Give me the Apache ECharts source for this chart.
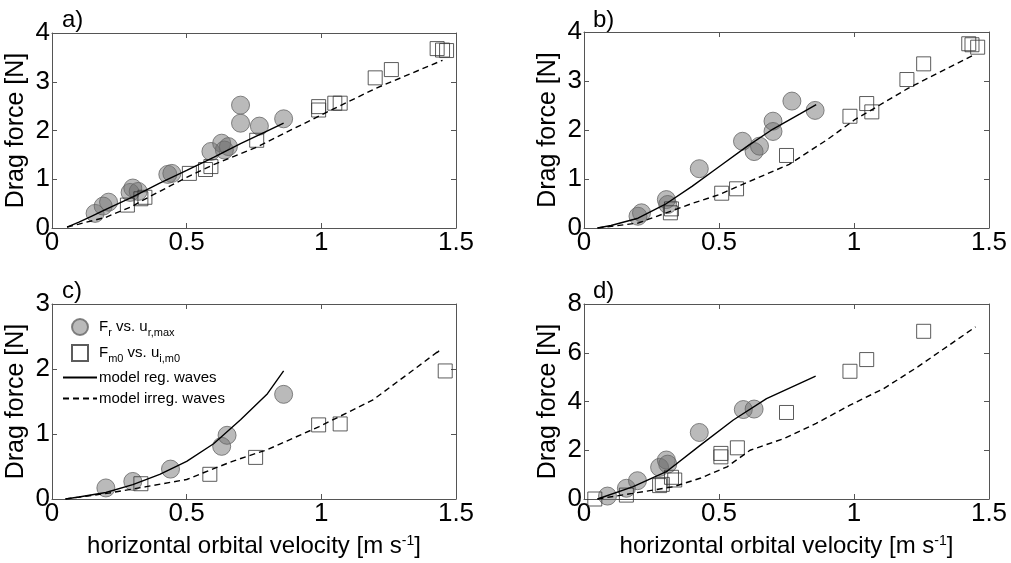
<!DOCTYPE html>
<html>
<head>
<meta charset="utf-8">
<script src="https://cdn.jsdelivr.net/npm/echarts@6/dist/echarts.min.js"></script>
<style>
  html, body { margin: 0; padding: 0; background: #fff; }
  #chart { width: 1011px; height: 563px; }
</style>
</head>
<body>
<div id="chart"></div>
<script>
// panel a)
const circlesA = [[0.16, 0.3], [0.19, 0.45], [0.21, 0.53], [0.29, 0.73], [0.3, 0.82], [0.32, 0.75],
  [0.43, 1.1], [0.445, 1.12], [0.59, 1.57], [0.63, 1.74], [0.64, 1.6], [0.655, 1.67],
  [0.7, 2.52], [0.7, 2.15], [0.77, 2.09], [0.86, 2.24]];
const squaresA = [[0.28, 0.47], [0.33, 0.6], [0.345, 0.63], [0.51, 1.12], [0.57, 1.2], [0.59, 1.26],
  [0.76, 1.8], [0.99, 2.49], [0.99, 2.42], [1.05, 2.56], [1.07, 2.56], [1.2, 3.08],
  [1.26, 3.25], [1.43, 3.68], [1.45, 3.65], [1.465, 3.64]];
const modelRegA = [[0.056, 0.02], [0.1, 0.12], [0.15, 0.25], [0.2, 0.38], [0.3, 0.64], [0.4, 0.92],
  [0.5, 1.18], [0.6, 1.45], [0.7, 1.73], [0.8, 1.99], [0.86, 2.15]];
const modelIrrA = [[0.056, 0.02], [0.1, 0.08], [0.2, 0.22], [0.3, 0.45], [0.33, 0.55], [0.5, 1.04],
  [0.6, 1.3], [0.76, 1.66], [1.0, 2.32], [1.2, 2.86], [1.45, 3.44]];

// panel b)
const circlesB = [[0.2, 0.24], [0.213, 0.31], [0.305, 0.58], [0.31, 0.48], [0.427, 1.21], [0.587, 1.77],
  [0.63, 1.56], [0.65, 1.67], [0.7, 2.18], [0.7, 1.97], [0.77, 2.59], [0.856, 2.4]];
const squaresB = [[0.32, 0.31], [0.324, 0.39], [0.51, 0.71], [0.565, 0.8], [0.75, 1.48], [0.985, 2.28],
  [1.047, 2.54], [1.066, 2.37], [1.196, 3.03], [1.258, 3.35], [1.425, 3.76], [1.437, 3.74], [1.458, 3.69]];
const modelRegB = [[0.05, 0.0], [0.1, 0.05], [0.2, 0.2], [0.3, 0.48], [0.4, 0.85], [0.5, 1.25],
  [0.6, 1.65], [0.7, 2.02], [0.8, 2.33], [0.86, 2.52]];
const modelIrrB = [[0.05, 0.0], [0.2, 0.1], [0.3, 0.3], [0.4, 0.5], [0.5, 0.68], [0.6, 0.92],
  [0.76, 1.3], [0.9, 1.8], [1.0, 2.2], [1.2, 2.85], [1.45, 3.55]];

// panel c)
const circlesC = [[0.2, 0.17], [0.3, 0.27], [0.44, 0.46], [0.63, 0.81], [0.65, 0.98], [0.86, 1.61]];
const squaresC = [[0.33, 0.235], [0.586, 0.38], [0.756, 0.64], [0.99, 1.14], [1.07, 1.155], [1.46, 1.97]];
const modelRegC = [[0.05, 0.0], [0.1, 0.03], [0.2, 0.1], [0.3, 0.22], [0.4, 0.38], [0.5, 0.58],
  [0.6, 0.85], [0.7, 1.22], [0.8, 1.62], [0.86, 1.97]];
const modelIrrC = [[0.05, 0.0], [0.21, 0.09], [0.35, 0.19], [0.5, 0.3], [0.56, 0.4], [0.67, 0.58],
  [0.8, 0.76], [0.99, 1.11], [1.19, 1.52], [1.34, 1.98], [1.44, 2.29], [1.43, 2.25]];

// panel d)
const circlesD = [[0.087, 0.12], [0.157, 0.44], [0.198, 0.75], [0.28, 1.3], [0.305, 1.6], [0.31, 1.43],
  [0.427, 2.73], [0.59, 3.67], [0.63, 3.69]];
const squaresD = [[0.04, 0.0], [0.157, 0.16], [0.28, 0.55], [0.29, 0.6], [0.324, 0.89], [0.336, 0.78],
  [0.507, 1.87], [0.507, 1.73], [0.568, 2.1], [0.75, 3.55], [0.985, 5.24], [1.047, 5.72], [1.258, 6.88]];
const modelRegD = [[0.05, 0.0], [0.18, 0.5], [0.305, 1.12], [0.43, 2.2], [0.553, 3.24], [0.676, 4.12],
  [0.858, 5.04]];
const modelIrrD = [[0.05, 0.0], [0.18, 0.23], [0.33, 0.5], [0.43, 0.85], [0.53, 1.32], [0.615, 2.0],
  [0.74, 2.48], [0.86, 3.1], [0.985, 3.85], [1.11, 4.53], [1.236, 5.42], [1.45, 7.06]];

const panelLetters = ['a)', 'b)', 'c)', 'd)'];
const yMax = [4, 4, 3, 8];
const yStep = [1, 1, 1, 2];
const xLabelText = 'horizontal orbital velocity [m s{sup|-1}]';
const yLabelText = 'Drag force [N]';
const legendNames = ['Fr vs. ur,max', 'Fm0 vs. ui,m0', 'model reg. waves', 'model irreg. waves'];

const panels = [
  [circlesA, squaresA, modelRegA, modelIrrA],
  [circlesB, squaresB, modelRegB, modelIrrB],
  [circlesC, squaresC, modelRegC, modelIrrC],
  [circlesD, squaresD, modelRegD, modelIrrD]
];

const FONT = 'Liberation Sans, Arial, sans-serif';
const boxColor = '#555';

const grids = [
  { left: 52, top: 33, width: 404, height: 195 },
  { left: 584, top: 32, width: 405, height: 196 },
  { left: 52, top: 304, width: 404, height: 195 },
  { left: 584, top: 304, width: 405, height: 195 }
];
const titlePos = [[57, 3], [588, 3], [57, 274], [588, 274]];

const xAxes = [], yAxes = [], series = [], titles = [];

grids.forEach(function (g, i) {
  const lineStyle = { color: boxColor, width: 1 };
  const tick = { show: true, inside: true, length: 5, lineStyle: lineStyle };
  // bottom x axis
  xAxes.push({
    gridIndex: i, type: 'value', min: 0, max: 1.5, interval: 0.5, position: 'bottom',
    splitLine: { show: false },
    axisLine: { show: true, onZero: false, lineStyle: lineStyle },
    axisTick: tick,
    axisLabel: { color: '#000', fontSize: 26, fontFamily: FONT, margin: 2 },
    name: i >= 2 ? xLabelText : '',
    nameLocation: 'middle', nameGap: 35,
    nameTextStyle: {
      color: '#000', fontSize: 24, fontFamily: FONT,
      rich: { sup: { fontSize: 14, fontFamily: FONT, color: '#000', verticalAlign: 'top', padding: [0, 0, 10, 0] } }
    }
  });
  // top x axis (box + ticks)
  xAxes.push({
    gridIndex: i, type: 'value', min: 0, max: 1.5, interval: 0.5, position: 'top',
    splitLine: { show: false },
    axisLine: { show: true, onZero: false, lineStyle: lineStyle },
    axisTick: tick, axisLabel: { show: false }
  });
  // left y axis
  yAxes.push({
    gridIndex: i, type: 'value', min: 0, max: yMax[i], interval: yStep[i], position: 'left',
    splitLine: { show: false },
    axisLine: { show: true, onZero: false, lineStyle: lineStyle },
    axisTick: tick,
    axisLabel: { color: '#000', fontSize: 26, fontFamily: FONT, margin: 2 },
    name: yLabelText, nameLocation: 'middle', nameRotate: 90, nameGap: 23,
    nameTextStyle: { color: '#000', fontSize: 25, fontFamily: FONT }
  });
  // right y axis (box + ticks)
  yAxes.push({
    gridIndex: i, type: 'value', min: 0, max: yMax[i], interval: yStep[i], position: 'right',
    splitLine: { show: false },
    axisLine: { show: true, onZero: false, lineStyle: lineStyle },
    axisTick: tick, axisLabel: { show: false }
  });

  const d = panels[i];
  series.push({
    name: legendNames[0], type: 'scatter', xAxisIndex: 2 * i, yAxisIndex: 2 * i,
    symbol: 'circle', symbolSize: 18, z: 2, data: d[0],
    itemStyle: { color: 'rgba(110,110,110,0.6)', borderColor: '#666', borderWidth: 1 }
  });
  series.push({
    name: legendNames[1], type: 'scatter', xAxisIndex: 2 * i, yAxisIndex: 2 * i,
    symbol: 'rect', symbolSize: 14, z: 2, data: d[1],
    itemStyle: { color: 'rgba(255,255,255,0)', borderColor: '#333', borderWidth: 1 }
  });
  series.push({
    name: legendNames[2], type: 'line', xAxisIndex: 2 * i, yAxisIndex: 2 * i,
    symbol: 'none', showSymbol: false, z: 3, data: d[2],
    itemStyle: { color: '#000' },
    lineStyle: { color: '#000', width: 1.4, type: 'solid' }
  });
  series.push({
    name: legendNames[3], type: 'line', xAxisIndex: 2 * i, yAxisIndex: 2 * i,
    symbol: 'none', showSymbol: false, z: 3, data: d[3],
    itemStyle: { color: '#000' },
    lineStyle: { color: '#000', width: 1.4, type: [6, 4] }
  });

  titles.push({
    text: panelLetters[i], left: titlePos[i][0], top: titlePos[i][1],
    textStyle: { color: '#000', fontSize: 24, fontWeight: 'normal', fontFamily: FONT }
  });
});

const legendRich = {
  n: { fontSize: 15, fontFamily: FONT, color: '#000', lineHeight: 22, verticalAlign: 'middle' },
  s: { fontSize: 11, fontFamily: FONT, color: '#000', verticalAlign: 'bottom', padding: [10, 0, 0, 0] }
};
const legendLabels = {
  'Fr vs. ur,max': '{n|F}{s|r}{n| vs. u}{s|r,max}',
  'Fm0 vs. ui,m0': '{n|F}{s|m0}{n| vs. u}{s|i,m0}',
  'model reg. waves': '{n|model reg. waves}',
  'model irreg. waves': '{n|model irreg. waves}'
};
const hiddenSymbol = { color: 'rgba(0,0,0,0)', borderWidth: 0, opacity: 0 };

const chart = echarts.init(document.getElementById('chart'));
chart.setOption({
  backgroundColor: '#fff',
  animation: false,
  title: titles,
  grid: grids,
  xAxis: xAxes,
  yAxis: yAxes,
  legend: {
    data: [
      { name: legendNames[0], icon: 'circle' },
      { name: legendNames[1], icon: 'path://M0,0H10V10H0Z' },
      { name: legendNames[2], itemStyle: hiddenSymbol },
      { name: legendNames[3], itemStyle: hiddenSymbol }
    ],
    orient: 'vertical', left: 62, top: 318,
    itemWidth: 34, itemHeight: 16, itemGap: 6,
    itemStyle: {},
    padding: 0,
    formatter: function (name) { return legendLabels[name]; },
    textStyle: { fontSize: 15, fontFamily: FONT, color: '#000', rich: legendRich, padding: [0, 0, 0, -3] },
    selectedMode: false
  },
  series: series
});
</script>
</body>
</html>
